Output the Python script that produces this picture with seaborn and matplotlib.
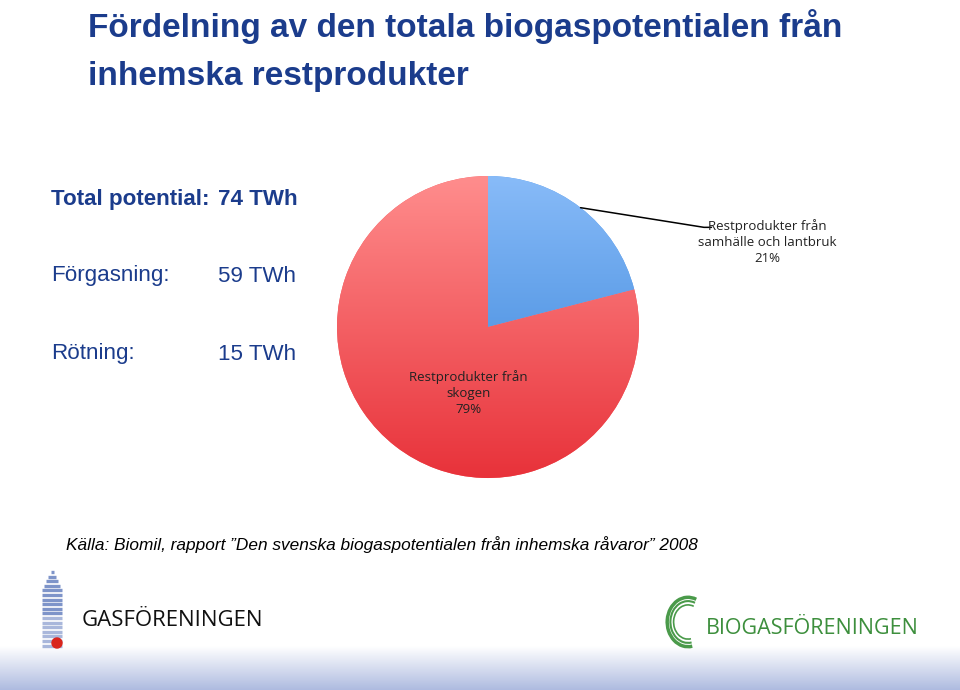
import numpy as np
import matplotlib
matplotlib.use("Agg")
import matplotlib.pyplot as plt
import seaborn as sns
from matplotlib import font_manager
from matplotlib.patches import Arc, Circle

# --- data -------------------------------------------------------------
categories = ["Restprodukter från\nsamhälle och lantbruk", "Restprodukter från\nskogen"]
shares = [21, 79]
summary_labels = ["Total potential:", "Förgasning:", "Rötning:"]
summary_values = ["74 TWh", "59 TWh", "15 TWh"]

title_lines = ["Fördelning av den totala biogaspotentialen från", "inhemska restprodukter"]
source = "Källa: Biomil, rapport \u201dDen svenska biogaspotentialen från inhemska råvaror\u201d 2008"

sns.set_theme(style="white")
plt.rcParams['font.family'] = ['Liberation Sans', 'DejaVu Sans']

# narrow face if available, otherwise shrink the regular one
installed = {f.name for f in font_manager.fontManager.ttflist}
if "Liberation Sans Narrow" in installed:
    narrow = ['Liberation Sans Narrow', 'DejaVu Sans']
    s = 1.0
else:
    narrow = ['Liberation Sans', 'DejaVu Sans']
    s = 0.85

navy = "#1b3c8c"
W, H = 960, 690
fig = plt.figure(figsize=(9.6, 6.9), dpi=100)
fig.patch.set_facecolor("white")

# bottom gradient band
band = fig.add_axes([0, 0, 1, 44 / H])
band.imshow(np.linspace(0, 1, 100).reshape(-1, 1), aspect="auto", extent=[0, 1, 0, 1],
            origin="lower",
            cmap=matplotlib.colors.LinearSegmentedColormap.from_list("b", ["#aebbe0", "#ffffff"]))
band.axis("off")

# title
for line, base in zip(title_lines, [37, 85]):
    fig.text(88 / W, 1 - base / H, line, color=navy, fontsize=28.3 * s, fontweight="bold",
             va="baseline", ha="left", family=narrow)

# left summary
ys = [200, 276, 354]
for i, (lab, val) in enumerate(zip(summary_labels, summary_values)):
    w = "bold" if i == 0 else "normal"
    fig.text(51 / W, 1 - ys[i] / H, lab, color=navy, fontsize=19 * s, fontweight=w,
             va="center", family=narrow)
    fig.text(218 / W, 1 - ys[i] / H, val, color=navy, fontsize=19 * s, fontweight=w,
             va="center", family=narrow)

# pie
cx, cy, r = 488, 327, 151
ax = fig.add_axes([(cx - r) / W, 1 - (cy + r) / H, 2 * r / W, 2 * r / H])
palette = sns.color_palette(["#5a9cec", "#f75a5e"])
wedges, _ = ax.pie(shares, colors=palette, startangle=90, counterclock=False,
                   radius=1.0, wedgeprops=dict(linewidth=0))
grad_maps = [["#2e7dd6", "#88bbf8"], ["#e8323a", "#ff8d8d"]]
for wdg, cols in zip(wedges, grad_maps):
    cm = matplotlib.colors.LinearSegmentedColormap.from_list("g", cols)
    im = ax.imshow(np.linspace(0, 1, 256).reshape(-1, 1), extent=[-1, 1, -1, 1],
                   origin="lower", cmap=cm, aspect="auto", zorder=2)
    im.set_clip_path(wdg)
ax.set_xlim(-1, 1)
ax.set_ylim(-1, 1)
ax.set_aspect("equal")
ax.axis("off")

# labels
lab_font = ['Open Sans', 'DejaVu Sans']
mid0 = np.deg2rad(90 - shares[0] / sum(shares) * 360 / 2)
ex, ey = np.cos(mid0), np.sin(mid0)
ax.plot([ex, 1.43, 1.48], [ey, 0.66, 0.66], color="black", lw=1.1, clip_on=False, zorder=3)
ax.text(1.85, 0.56, f"{categories[0]}\n{shares[0]}%", ha="center", va="center",
        fontsize=9.5, family=lab_font, color="#222222", linespacing=1.3)
ax.text(-0.13, -0.44, f"{categories[1]}\n{shares[1]}%", ha="center", va="center",
        fontsize=9.5, family=lab_font, color="#222222", linespacing=1.3, zorder=4)

# source
fig.text(66 / W, 1 - 545 / H, source, fontsize=14.6 * s, style="italic", color="black",
         va="center", family=narrow)

# logos (approximate)
lg = fig.add_axes([0, 0, 1, 1], facecolor="none")
lg.set_xlim(0, W)
lg.set_ylim(H, 0)
lg.axis("off")
for k, yy in enumerate(np.arange(572, 646, 4.6)):
    half = min(1.5 + k * 2.2, 10)
    lg.plot([52 - half, 52 + half], [yy, yy], color="#7088c4", lw=2.4,
            solid_capstyle="butt", alpha=0.9 if k < 10 else 0.6)
lg.add_patch(Circle((57, 643), 5, color="#d9251c", zorder=3))
lg.text(82, 621, "GASFÖRENINGEN", fontsize=16, color="#111111", va="center", ha="left",
        family=['Open Sans', 'DejaVu Sans'])
for rr, lw in [(26, 2.5), (22, 1.5), (18, 1.2)]:
    lg.add_patch(Arc((688, 622), rr * 1.6, rr * 1.9, theta1=80, theta2=290,
                     color="#4a9a4a", lw=lw))
lg.text(706, 628, "BIOGASFÖRENINGEN", fontsize=15.5, color="#3d8f3d", va="center", ha="left",
        family=['Open Sans', 'DejaVu Sans'])

fig.savefig("out.png", dpi=100)
